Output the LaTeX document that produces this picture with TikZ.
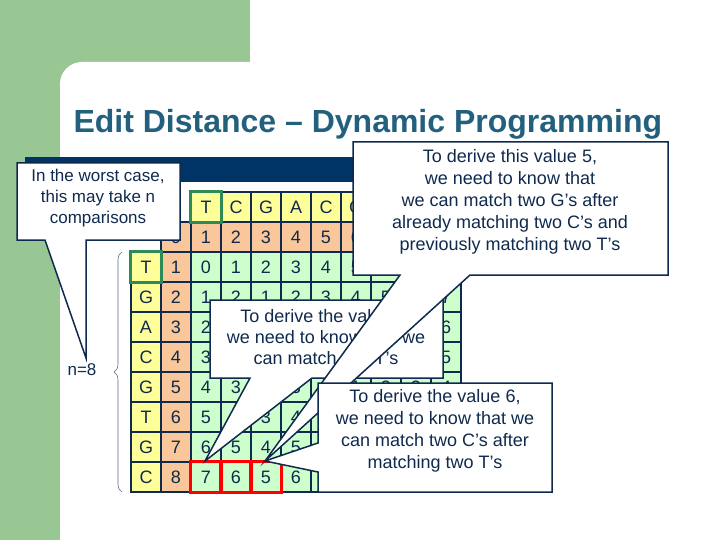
\documentclass[tikz,border=0pt]{standalone}
\usepackage{fontspec}
\setmainfont{Liberation Sans}
\usetikzlibrary{decorations.pathreplacing}
\definecolor{slidegreen}{HTML}{99C794}
\definecolor{navy}{HTML}{0F2A4E}
\definecolor{barnavy}{HTML}{003366}
\definecolor{titleblue}{HTML}{22607E}
\definecolor{cyel}{HTML}{FFFF99}
\definecolor{corg}{HTML}{F9C79A}
\definecolor{cgrn}{HTML}{CCFFCC}
\definecolor{hgreen}{HTML}{2E8B57}
\tikzset{
 cellbox/.style={draw=navy,line width=1.5pt,minimum size=30pt,inner sep=0pt,text=navy,font=\fontsize{18}{18}\selectfont},
 callout/.style={draw=navy,fill=white,line width=1.5pt,line join=miter},
 ctext/.style={text=navy,font=\fontsize{18}{22}\selectfont,align=center},
}
\begin{document}
\begin{tikzpicture}[x=1pt,y=-1pt]
\useasboundingbox (0,0) rectangle (720,540);
\fill[slidegreen] (0,0) rectangle (720,540);
\fill[white,rounded corners=22pt] (60,62) rectangle (760,580);
\fill[white] (250,-5) rectangle (725,62);
\node[anchor=west,text=titleblue,font=\bfseries\fontsize{32}{32}\selectfont] (title) at (70,124) {Edit Distance – Dynamic Programming};
\fill[barnavy] (25,157) rectangle (660,182);
% header row
\foreach \l [count=\k] in {T,C,G,A,C,G,T,C,A}
  \node[cellbox,fill=cyel] (h-\k) at (176+30*\k,207) {\l};
\foreach \k in {0,...,9}
  \node[cellbox,fill=corg] (r0-\k) at (176+30*\k,237) {\k};
\foreach \l [count=\i] in {T,G,A,C,G,T,G,C}{
  \node[cellbox,fill=cyel] (lab-\i) at (146,237+30*\i) {\l};
  \node[cellbox,fill=corg] (c\i-0) at (176,237+30*\i) {\i};
}
\foreach \row [count=\i] in {
 {0,1,2,3,4,5,6,7,8},{1,2,1,2,3,4,5,6,7},{2,3,2,1,2,3,4,5,6},{3,2,3,2,1,2,3,4,5},
 {4,3,2,3,2,1,2,3,4},{5,4,3,4,3,2,1,2,3},{6,5,4,5,4,3,2,3,4},{7,6,5,6,5,4,3,2,3}}{
  \foreach \v [count=\k] in \row
    \node[cellbox,fill=cgrn] (c\i-\k) at (176+30*\k,237+30*\i) {\v};
}
\draw[hgreen,line width=3pt] (h-1.north west) rectangle (h-1.south east);
\draw[hgreen,line width=3pt] (lab-1.north west) rectangle (lab-1.south east);
\foreach \k in {1,2,3}
  \draw[red,line width=3pt] (c8-\k.north west) rectangle (c8-\k.south east);
% brace
\coordinate (bt) at (122,252);
\coordinate (bb) at (122,492);
\draw[navy!70,line width=0.6pt,decorate,decoration={brace,amplitude=8pt}] (bb) -- (bt);
\node[text=navy,font=\fontsize{17}{17}\selectfont] (n8) at (82,370) {n=8};
% left callout
\draw[callout] (17,163) -- (180,163) -- (180,240) -- (86,240) -- (86,358) -- (45,240) -- (17,240) -- cycle;
\node[ctext,font=\fontsize{17}{21}\selectfont] (t1) at (98,198) {In the worst case,\\this may take n\\comparisons};
% middle callout
\draw[callout] (210,300) -- (443,300) -- (443,378) -- (312,378) -- (205,461) -- (250,378) -- (210,378) -- cycle;
\node[ctext,font=\fontsize{18}{21}\selectfont] (t3) at (326,337) {To derive the value 7,\\we need to know that we\\can match two T’s};
% top-right callout
\draw[callout] (353,142) -- (668,142) -- (668,275) -- (470,275) -- (265,461) -- (400,275) -- (353,275) -- cycle;
\node[ctext] (t2) at (510,202) {To derive this value 5,\\we need to know that\\we can match two G’s after\\already matching two C’s and\\previously matching two T’s};
% bottom-right callout
\draw[callout] (318,383) -- (552,383) -- (552,492) -- (318,492) -- (318,472) -- (265,461) -- (318,443) -- cycle;
\node[ctext] (t4) at (435,431) {To derive the value 6,\\we need to know that we\\can match two C’s after\\matching two T’s};
\end{tikzpicture}
\end{document}
